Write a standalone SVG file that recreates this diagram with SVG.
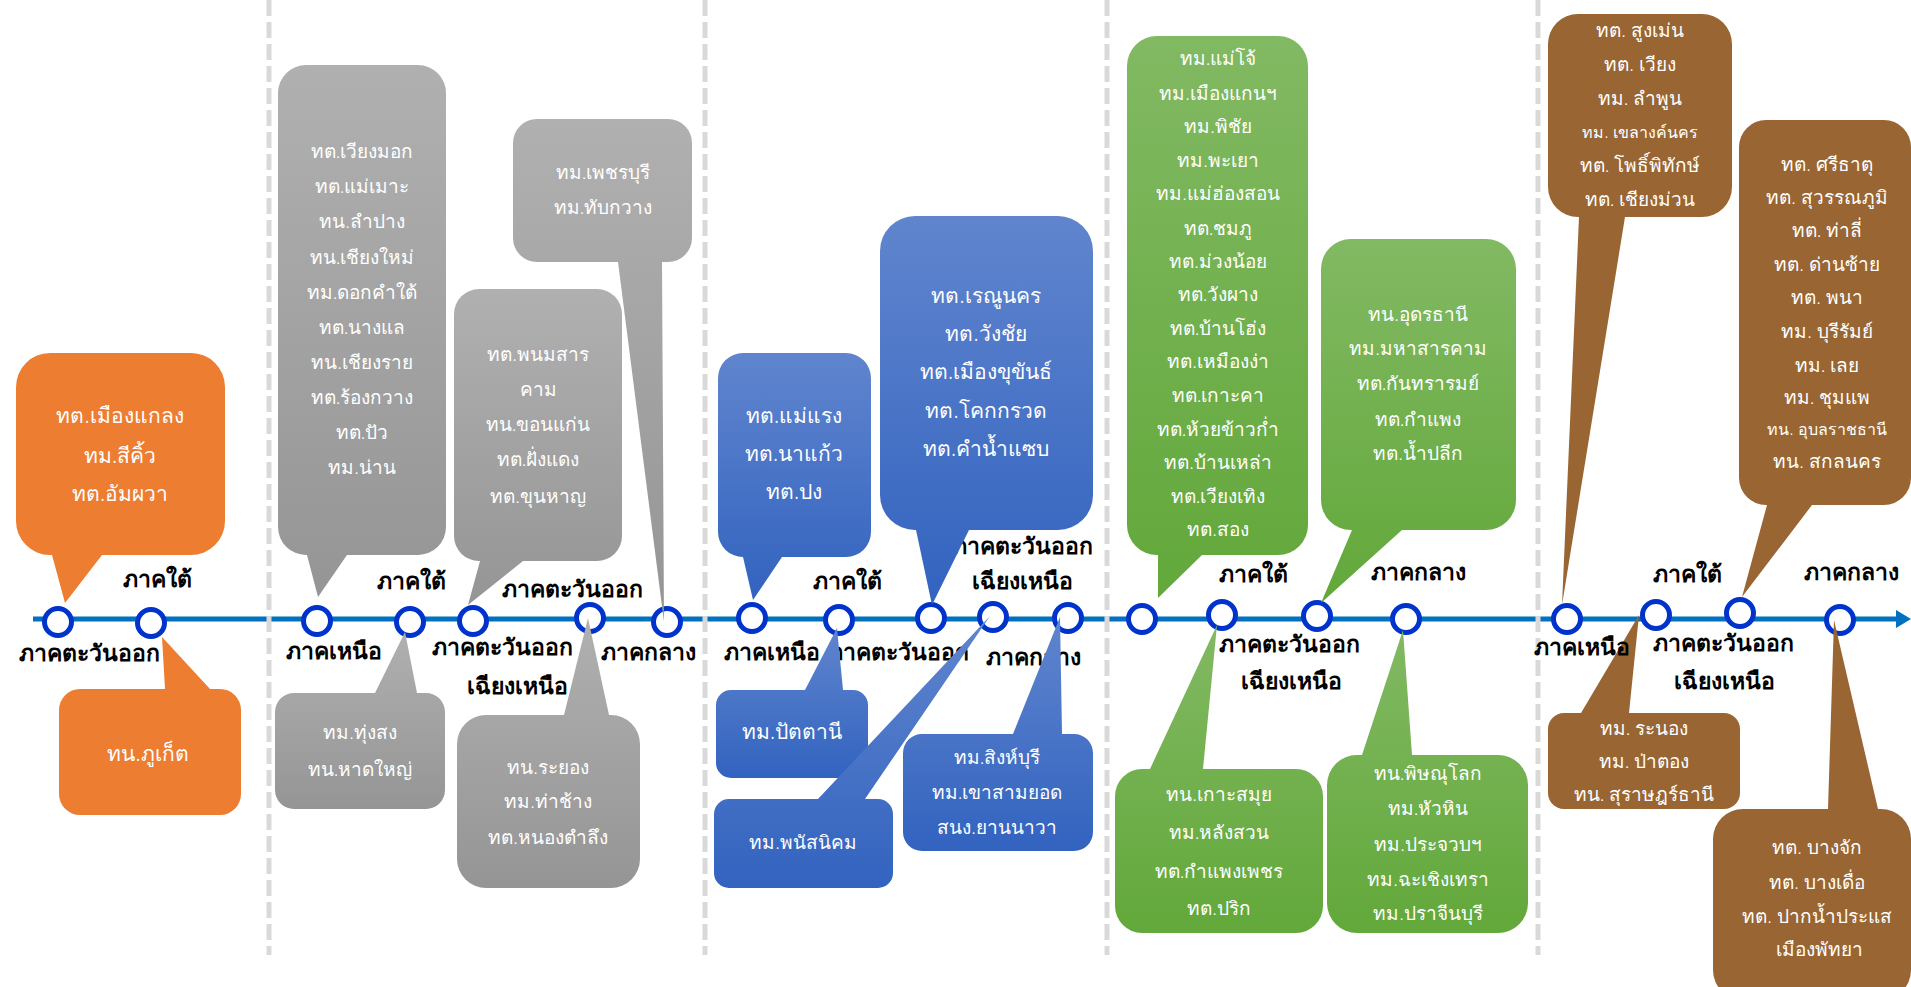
<svg xmlns="http://www.w3.org/2000/svg" width="1911" height="987" viewBox="0 0 1911 987">
<defs>
<linearGradient id="gGray" x1="0" y1="0" x2="0" y2="1"><stop offset="0" stop-color="#B0B0B0"/><stop offset="1" stop-color="#959595"/></linearGradient>
<linearGradient id="gBlue" x1="0" y1="0" x2="0" y2="1"><stop offset="0" stop-color="#6085CE"/><stop offset="1" stop-color="#3263BF"/></linearGradient>
<linearGradient id="gGreen" x1="0" y1="0" x2="0" y2="1"><stop offset="0" stop-color="#82B963"/><stop offset="1" stop-color="#62A83A"/></linearGradient>
</defs>
<style>
.sep{stroke:#D9D9D9;stroke-width:5;stroke-dasharray:16 6;fill:none}
.axis{stroke:#0070C0;stroke-width:5;fill:none}
.node{fill:#FFFFFF;stroke:#0033CC;stroke-width:5}
.lbl{font-family:"Noto Sans","DejaVu Sans",sans-serif;font-size:23px;font-weight:bold;fill:#000000;text-anchor:middle}
.t{font-family:"Noto Sans","DejaVu Sans",sans-serif;font-weight:300;fill:#FFFFFF;text-anchor:middle}
.f21{font-size:21px}
.f19{font-size:19px}
.f16{font-size:16px}
.orange{fill:#ED7D31}
.gray{fill:url(#gGray)}
.blue{fill:url(#gBlue)}
.green{fill:url(#gGreen)}
.brown{fill:#996633}
</style>
<rect width="1911" height="987" fill="#FFFFFF"/>
<g id="connectors">
<line class="axis" x1="33" y1="619" x2="1898" y2="619"/>
<polygon points="1896,610 1911,619 1896,628" fill="#0070C0"/>
</g>
<g id="separators">
<line class="sep" x1="269" y1="0" x2="269" y2="955"/>
<line class="sep" x1="705" y1="0" x2="705" y2="955"/>
<line class="sep" x1="1107" y1="0" x2="1107" y2="955"/>
<line class="sep" x1="1538" y1="0" x2="1538" y2="955"/>
</g>
<g id="nodes">
<circle class="node" cx="58" cy="622" r="13.5"/>
<circle class="node" cx="151" cy="623" r="13.5"/>
<circle class="node" cx="317" cy="621" r="13.5"/>
<circle class="node" cx="410" cy="622" r="13.5"/>
<circle class="node" cx="473" cy="621" r="13.5"/>
<circle class="node" cx="590" cy="618" r="13.5"/>
<circle class="node" cx="667" cy="622" r="13.5"/>
<circle class="node" cx="752" cy="618" r="13.5"/>
<circle class="node" cx="839" cy="620" r="13.5"/>
<circle class="node" cx="931" cy="618" r="13.5"/>
<circle class="node" cx="993" cy="617" r="13.5"/>
<circle class="node" cx="1068" cy="618" r="13.5"/>
<circle class="node" cx="1142" cy="619" r="13.5"/>
<circle class="node" cx="1222" cy="615" r="13.5"/>
<circle class="node" cx="1317" cy="616" r="13.5"/>
<circle class="node" cx="1406" cy="619" r="13.5"/>
<circle class="node" cx="1567" cy="619" r="13.5"/>
<circle class="node" cx="1656" cy="615" r="13.5"/>
<circle class="node" cx="1740" cy="613" r="13.5"/>
<circle class="node" cx="1840" cy="620" r="13.5"/>
</g>
<g id="labels">
<text class="lbl" x="157" y="587">ภาคใต้</text>
<text class="lbl" x="89" y="661">ภาคตะวันออก</text>
<text class="lbl" x="334" y="659">ภาคเหนือ</text>
<text class="lbl" x="411" y="589">ภาคใต้</text>
<text class="lbl" x="502" y="655">ภาคตะวันออก</text>
<text class="lbl" x="517" y="694">เฉียงเหนือ</text>
<text class="lbl" x="572" y="597">ภาคตะวันออก</text>
<text class="lbl" x="648" y="660">ภาคกลาง</text>
<text class="lbl" x="772" y="660">ภาคเหนือ</text>
<text class="lbl" x="847" y="589">ภาคใต้</text>
<text class="lbl" x="898" y="660">ภาคตะวันออก</text>
<text class="lbl" x="1022" y="554">ภาคตะวันออก</text>
<text class="lbl" x="1022" y="589">เฉียงเหนือ</text>
<text class="lbl" x="1033" y="665">ภาคกลาง</text>
<text class="lbl" x="1253" y="582">ภาคใต้</text>
<text class="lbl" x="1289" y="652">ภาคตะวันออก</text>
<text class="lbl" x="1291" y="689">เฉียงเหนือ</text>
<text class="lbl" x="1418" y="580">ภาคกลาง</text>
<text class="lbl" x="1687" y="582">ภาคใต้</text>
<text class="lbl" x="1723" y="651">ภาคตะวันออก</text>
<text class="lbl" x="1724" y="689">เฉียงเหนือ</text>
<text class="lbl" x="1851" y="580">ภาคกลาง</text>
</g>
<g id="callout-o1">
<path class="orange" d="M50,353 H191 A34,34 0 0 1 225,387 V521 A34,34 0 0 1 191,555 H102 L65,603 L52,555 H50 A34,34 0 0 1 16,521 V387 A34,34 0 0 1 50,353 Z"/>
<text class="t f21" x="120" y="423">ทต.เมืองแกลง</text>
<text class="t f21" x="120" y="463">ทม.สีคิ้ว</text>
<text class="t f21" x="120" y="501">ทต.อัมผวา</text>
</g>
<g id="callout-o2">
<path class="orange" d="M80,689 H165 L162,637 L210,689 H220 A21,21 0 0 1 241,710 V794 A21,21 0 0 1 220,815 H80 A21,21 0 0 1 59,794 V710 A21,21 0 0 1 80,689 Z"/>
<text class="t f21" x="148" y="761">ทน.ภูเก็ต</text>
</g>
<g id="callout-ga">
<path class="gray" d="M306,65 H418 A28,28 0 0 1 446,93 V527 A28,28 0 0 1 418,555 H347 L318,597 L307,555 H306 A28,28 0 0 1 278,527 V93 A28,28 0 0 1 306,65 Z"/>
<text class="t f19" x="362" y="158">ทต.เวียงมอก</text>
<text class="t f19" x="362" y="193">ทต.แม่เมาะ</text>
<text class="t f19" x="362" y="228">ทน.ลำปาง</text>
<text class="t f19" x="362" y="264">ทน.เชียงใหม่</text>
<text class="t f19" x="362" y="299">ทม.ดอกคำใต้</text>
<text class="t f19" x="362" y="334">ทต.นางแล</text>
<text class="t f19" x="362" y="369">ทน.เชียงราย</text>
<text class="t f19" x="362" y="404">ทต.ร้องกวาง</text>
<text class="t f19" x="362" y="439">ทต.ปัว</text>
<text class="t f19" x="362" y="474">ทม.น่าน</text>
</g>
<g id="callout-gb">
<path class="gray" d="M537,119 H668 A24,24 0 0 1 692,143 V238 A24,24 0 0 1 668,262 H662 L664,622 L618,262 H537 A24,24 0 0 1 513,238 V143 A24,24 0 0 1 537,119 Z"/>
<text class="t f19" x="603" y="179">ทม.เพชรบุรี</text>
<text class="t f19" x="603" y="214">ทม.ทับกวาง</text>
</g>
<g id="callout-gc">
<path class="gray" d="M479,289 H597 A25,25 0 0 1 622,314 V536 A25,25 0 0 1 597,561 H523 L468,605 L480,561 H479 A25,25 0 0 1 454,536 V314 A25,25 0 0 1 479,289 Z"/>
<text class="t f19" x="538" y="361">ทต.พนมสาร</text>
<text class="t f19" x="538" y="396">คาม</text>
<text class="t f19" x="538" y="431">ทน.ขอนแก่น</text>
<text class="t f19" x="538" y="466">ทต.ฝั่งแดง</text>
<text class="t f19" x="538" y="503">ทต.ขุนหาญ</text>
</g>
<g id="callout-gd">
<path class="gray" d="M294,693 H375 L405,632 L417,693 H426 A19,19 0 0 1 445,712 V790 A19,19 0 0 1 426,809 H294 A19,19 0 0 1 275,790 V712 A19,19 0 0 1 294,693 Z"/>
<text class="t f19" x="360" y="739">ทม.ทุ่งสง</text>
<text class="t f19" x="360" y="776">ทน.หาดใหญ่</text>
</g>
<g id="callout-ge">
<path class="gray" d="M486,715 H564 L588,618 L609,715 H611 A29,29 0 0 1 640,744 V859 A29,29 0 0 1 611,888 H486 A29,29 0 0 1 457,859 V744 A29,29 0 0 1 486,715 Z"/>
<text class="t f19" x="548" y="774">ทน.ระยอง</text>
<text class="t f19" x="548" y="808">ทม.ท่าช้าง</text>
<text class="t f19" x="548" y="844">ทต.หนองตำลึง</text>
</g>
<g id="callout-ba">
<path class="blue" d="M743,353 H846 A25,25 0 0 1 871,378 V532 A25,25 0 0 1 846,557 H782 L753,600 L743,557 H743 A25,25 0 0 1 718,532 V378 A25,25 0 0 1 743,353 Z"/>
<text class="t f21" x="794" y="423">ทต.แม่แรง</text>
<text class="t f21" x="794" y="461">ทต.นาแก้ว</text>
<text class="t f21" x="794" y="499">ทต.ปง</text>
</g>
<g id="callout-bb">
<path class="blue" d="M915,216 H1058 A35,35 0 0 1 1093,251 V495 A35,35 0 0 1 1058,530 H969 L932,605 L916,530 H915 A35,35 0 0 1 880,495 V251 A35,35 0 0 1 915,216 Z"/>
<text class="t f21" x="986" y="303">ทต.เรณูนคร</text>
<text class="t f21" x="986" y="341">ทต.วังชัย</text>
<text class="t f21" x="986" y="379">ทต.เมืองขุขันธ์</text>
<text class="t f21" x="986" y="418">ทต.โคกกรวด</text>
<text class="t f21" x="986" y="456">ทต.คำน้ำแซบ</text>
</g>
<g id="callout-bc">
<path class="blue" d="M731,690 H805 L837,628 L843,690 H853 A15,15 0 0 1 868,705 V763 A15,15 0 0 1 853,778 H731 A15,15 0 0 1 716,763 V705 A15,15 0 0 1 731,690 Z"/>
<text class="t f21" x="792" y="739">ทม.ปัตตานี</text>
</g>
<g id="callout-bd">
<path class="blue" d="M729,799 H818 L990,616 L865,799 H878 A15,15 0 0 1 893,814 V873 A15,15 0 0 1 878,888 H729 A15,15 0 0 1 714,873 V814 A15,15 0 0 1 729,799 Z"/>
<text class="t f19" x="803" y="849">ทม.พนัสนิคม</text>
</g>
<g id="callout-be">
<path class="blue" d="M922,734 H1013 L1060,617 L1062,734 H1074 A19,19 0 0 1 1093,753 V832 A19,19 0 0 1 1074,851 H922 A19,19 0 0 1 903,832 V753 A19,19 0 0 1 922,734 Z"/>
<text class="t f19" x="997" y="764">ทม.สิงห์บุรี</text>
<text class="t f19" x="997" y="799">ทม.เขาสามยอด</text>
<text class="t f19" x="997" y="834">สนง.ยานนาวา</text>
</g>
<g id="callout-gra">
<path class="green" d="M1157,36 H1278 A30,30 0 0 1 1308,66 V525 A30,30 0 0 1 1278,555 H1202 L1158,598 L1158,555 H1157 A30,30 0 0 1 1127,525 V66 A30,30 0 0 1 1157,36 Z"/>
<text class="t f19" x="1218" y="65">ทม.แม่โจ้</text>
<text class="t f19" x="1218" y="100">ทม.เมืองแกนฯ</text>
<text class="t f19" x="1218" y="133">ทม.พิชัย</text>
<text class="t f19" x="1218" y="167">ทม.พะเยา</text>
<text class="t f19" x="1218" y="200">ทม.แม่ฮ่องสอน</text>
<text class="t f19" x="1218" y="235">ทต.ชมภู</text>
<text class="t f19" x="1218" y="268">ทต.ม่วงน้อย</text>
<text class="t f19" x="1218" y="301">ทต.วังผาง</text>
<text class="t f19" x="1218" y="335">ทต.บ้านโฮ่ง</text>
<text class="t f19" x="1218" y="368">ทต.เหมืองง่า</text>
<text class="t f19" x="1218" y="402">ทต.เกาะคา</text>
<text class="t f19" x="1218" y="436">ทต.ห้วยข้าวก่ำ</text>
<text class="t f19" x="1218" y="469">ทต.บ้านเหล่า</text>
<text class="t f19" x="1218" y="503">ทต.เวียงเทิง</text>
<text class="t f19" x="1218" y="536">ทต.สอง</text>
</g>
<g id="callout-grb">
<path class="green" d="M1351,239 H1486 A30,30 0 0 1 1516,269 V500 A30,30 0 0 1 1486,530 H1402 L1321,603 L1352,530 H1351 A30,30 0 0 1 1321,500 V269 A30,30 0 0 1 1351,239 Z"/>
<text class="t f19" x="1418" y="321">ทน.อุดรธานี</text>
<text class="t f19" x="1418" y="355">ทม.มหาสารคาม</text>
<text class="t f19" x="1418" y="390">ทต.กันทรารมย์</text>
<text class="t f19" x="1418" y="426">ทต.กำแพง</text>
<text class="t f19" x="1418" y="460">ทต.น้ำปลีก</text>
</g>
<g id="callout-grc">
<path class="green" d="M1142,769 H1150 L1217,625 L1203,769 H1296 A27,27 0 0 1 1323,796 V906 A27,27 0 0 1 1296,933 H1142 A27,27 0 0 1 1115,906 V796 A27,27 0 0 1 1142,769 Z"/>
<text class="t f19" x="1219" y="801">ทน.เกาะสมุย</text>
<text class="t f19" x="1219" y="839">ทม.หลังสวน</text>
<text class="t f19" x="1219" y="878">ทต.กำแพงเพชร</text>
<text class="t f19" x="1219" y="915">ทต.ปริก</text>
</g>
<g id="callout-grd">
<path class="green" d="M1357,755 H1362 L1403,630 L1412,755 H1498 A30,30 0 0 1 1528,785 V903 A30,30 0 0 1 1498,933 H1357 A30,30 0 0 1 1327,903 V785 A30,30 0 0 1 1357,755 Z"/>
<text class="t f19" x="1428" y="780">ทน.พิษณุโลก</text>
<text class="t f19" x="1428" y="815">ทม.หัวหิน</text>
<text class="t f19" x="1428" y="851">ทม.ประจวบฯ</text>
<text class="t f19" x="1428" y="886">ทม.ฉะเชิงเทรา</text>
<text class="t f19" x="1428" y="920">ทม.ปราจีนบุรี</text>
</g>
<g id="callout-bra">
<path class="brown" d="M1578,14 H1702 A30,30 0 0 1 1732,44 V187 A30,30 0 0 1 1702,217 H1625 L1562,605 L1579,217 H1578 A30,30 0 0 1 1548,187 V44 A30,30 0 0 1 1578,14 Z"/>
<text class="t f19" x="1640" y="37">ทต. สูงเม่น</text>
<text class="t f19" x="1640" y="71">ทต. เวียง</text>
<text class="t f19" x="1640" y="105">ทม. ลำพูน</text>
<text class="t f16" x="1640" y="138">ทม. เขลางค์นคร</text>
<text class="t f19" x="1640" y="172">ทต. โพธิ์พิทักษ์</text>
<text class="t f19" x="1640" y="206">ทต. เชียงม่วน</text>
</g>
<g id="callout-brb">
<path class="brown" d="M1766,120 H1884 A27,27 0 0 1 1911,147 V478 A27,27 0 0 1 1884,505 H1812 L1742,597 L1767,505 H1766 A27,27 0 0 1 1739,478 V147 A27,27 0 0 1 1766,120 Z"/>
<text class="t f19" x="1827" y="171">ทต. ศรีธาตุ</text>
<text class="t f19" x="1827" y="204">ทต. สุวรรณภูมิ</text>
<text class="t f19" x="1827" y="237">ทต. ท่าลี่</text>
<text class="t f19" x="1827" y="271">ทต. ด่านซ้าย</text>
<text class="t f19" x="1827" y="304">ทต. พนา</text>
<text class="t f19" x="1827" y="338">ทม. บุรีรัมย์</text>
<text class="t f19" x="1827" y="372">ทม. เลย</text>
<text class="t f19" x="1827" y="404">ทม. ชุมแพ</text>
<text class="t f16" x="1827" y="435">ทน. อุบลราชธานี</text>
<text class="t f19" x="1827" y="468">ทน. สกลนคร</text>
</g>
<g id="callout-brc">
<path class="brown" d="M1564,713 H1581 L1639,615 L1629,713 H1724 A16,16 0 0 1 1740,729 V793 A16,16 0 0 1 1724,809 H1564 A16,16 0 0 1 1548,793 V729 A16,16 0 0 1 1564,713 Z"/>
<text class="t f19" x="1644" y="735">ทม. ระนอง</text>
<text class="t f19" x="1644" y="768">ทม. ป่าตอง</text>
<text class="t f19" x="1644" y="801">ทน. สุราษฎร์ธานี</text>
</g>
<g id="label-north-5">
<text class="lbl" x="1582" y="655">ภาคเหนือ</text>
</g>
<g id="callout-brd">
<path class="brown" d="M1743,809 H1828 L1834,620 L1878,809 H1881 A30,30 0 0 1 1911,839 V970 A30,30 0 0 1 1881,1000 H1743 A30,30 0 0 1 1713,970 V839 A30,30 0 0 1 1743,809 Z"/>
<text class="t f19" x="1817" y="854">ทต. บางจัก</text>
<text class="t f19" x="1817" y="889">ทต. บางเดื่อ</text>
<text class="t f19" x="1817" y="923">ทต. ปากน้ำประแส</text>
<text class="t f19" x="1819" y="956">เมืองพัทยา</text>
</g>
</svg>
